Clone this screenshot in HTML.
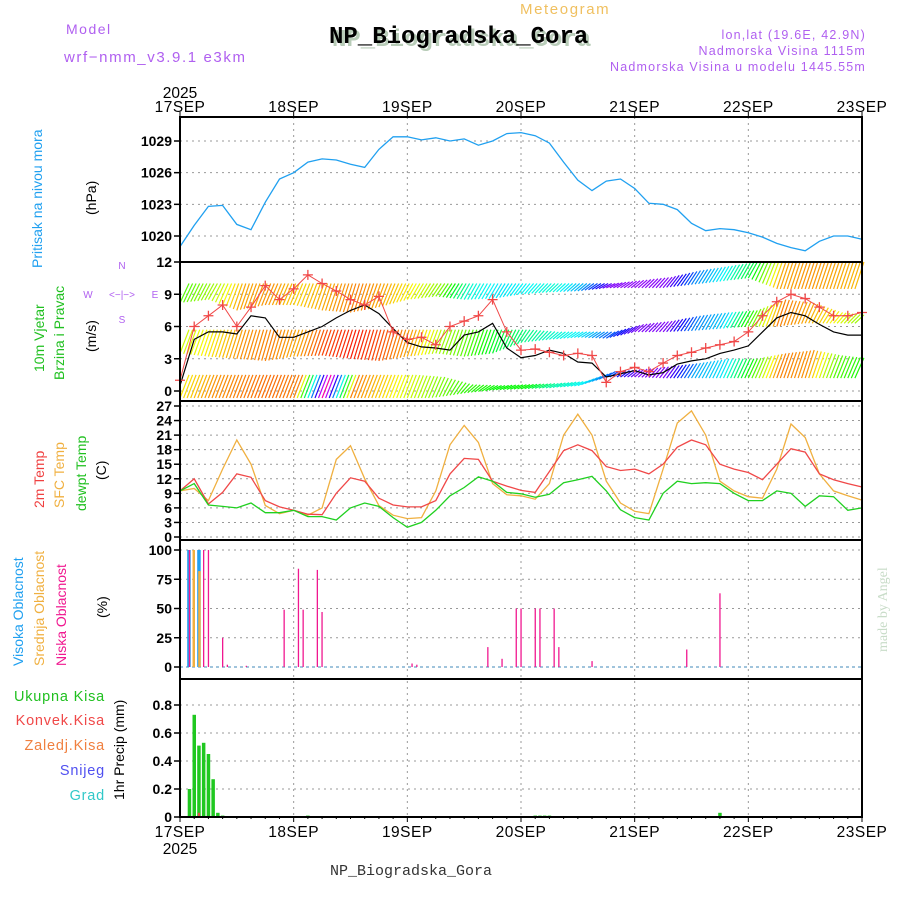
<!DOCTYPE html>
<html><head><meta charset="utf-8"><style>
html,body{margin:0;padding:0;background:#fff;}
svg{display:block;font-family:"Liberation Sans",sans-serif;}
</style></head><body>
<svg id="chart" width="900" height="900" viewBox="0 0 900 900" xmlns="http://www.w3.org/2000/svg">
<rect width="900" height="900" fill="#fff"/>
<g id="header">
<text x="66" y="34" fill="#b060f0" font-size="14" letter-spacing="1.5">Model</text>
<text x="64" y="62" fill="#b060f0" font-size="15" letter-spacing="1.6">wrf−nmm_v3.9.1 e3km</text>
<text x="520" y="14" fill="#f0c060" font-size="15" letter-spacing="1.6">Meteogram</text>
<text x="332" y="46" fill="#b8ccb8" font-size="24" font-weight="bold" font-family="Liberation Mono, monospace">NP_Biogradska_Gora</text>
<text x="329" y="43" fill="#000" font-size="24" font-weight="bold" font-family="Liberation Mono, monospace">NP_Biogradska_Gora</text>
<text x="866" y="39" fill="#b060f0" font-size="12.5" letter-spacing="1.2" text-anchor="end">lon,lat (19.6E, 42.9N)</text>
<text x="866" y="55" fill="#b060f0" font-size="12.5" letter-spacing="1.2" text-anchor="end">Nadmorska Visina 1115m</text>
<text x="866" y="71" fill="#b060f0" font-size="12.5" letter-spacing="1.2" text-anchor="end">Nadmorska Visina u modelu 1445.55m</text>
<text x="330" y="875" fill="#333" font-size="15" font-family="Liberation Mono, monospace">NP_Biogradska_Gora</text>
<text transform="translate(887,652) rotate(-90)" fill="#c8dcc8" font-size="14" font-family="Liberation Serif, serif">made by Angel</text>
</g>
<g id="labels" font-size="14">
<text transform="translate(42,268) rotate(-90)" fill="#20a0f0">Pritisak na nivou mora</text>
<text transform="translate(96,215) rotate(-90)" fill="#000">(hPa)</text>
<text transform="translate(44,372) rotate(-90)" fill="#20c020">10m Vjetar</text>
<text transform="translate(64,380) rotate(-90)" fill="#20c020">Brzina i Pravac</text>
<text transform="translate(96,352) rotate(-90)" fill="#000">(m/s)</text>
<text x="122" y="269" fill="#b060f0" font-size="10" text-anchor="middle">N</text>
<text x="122" y="323" fill="#b060f0" font-size="10" text-anchor="middle">S</text>
<text x="88" y="298" fill="#b060f0" font-size="10" text-anchor="middle">W</text>
<text x="155" y="298" fill="#b060f0" font-size="10" text-anchor="middle">E</text>
<text x="122" y="298" fill="#b060f0" font-size="10" text-anchor="middle">&lt;−|−&gt;</text>
<text transform="translate(44,508) rotate(-90)" fill="#f04040">2m Temp</text>
<text transform="translate(64,508) rotate(-90)" fill="#f0b040">SFC Temp</text>
<text transform="translate(86,511) rotate(-90)" fill="#20c020">dewpt Temp</text>
<text transform="translate(106,480) rotate(-90)" fill="#000">(C)</text>
<text transform="translate(23,666) rotate(-90)" fill="#20a0f0">Visoka Oblacnost</text>
<text transform="translate(44,666) rotate(-90)" fill="#f0b040">Srednja Oblacnost</text>
<text transform="translate(66,666) rotate(-90)" fill="#f01890">Niska Oblacnost</text>
<text transform="translate(107,618) rotate(-90)" fill="#000">(%)</text>
<g font-size="14.5" text-anchor="end" letter-spacing="0.8">
<text x="105" y="701" fill="#20c020">Ukupna Kisa</text>
<text x="105" y="725" fill="#f04848">Konvek.Kisa</text>
<text x="105" y="750" fill="#f08040">Zaledj.Kisa</text>
<text x="105" y="775" fill="#5050f0">Snijeg</text>
<text x="105" y="800" fill="#30c8c8">Grad</text>
</g>
<text transform="translate(124,800) rotate(-90)" fill="#000">1hr Precip (mm)</text>
</g>
<g id="grid"></g>
<g id="plots"></g>
<g id="frame"></g>
</svg>
<script>
// ---- data (3-hourly, hour 0..144 from 17SEP 00UTC) ----
var dayLabels = ["17SEP","18SEP","19SEP","20SEP","21SEP","22SEP","23SEP"];
var pressureTicks = [1020,1023,1026,1029];
var windTicks = [0,3,6,9,12];
var tempTicks = [0,3,6,9,12,15,18,21,24,27];
var cloudTicks = [0,25,50,75,100];
var precipTicks = [0,0.2,0.4,0.6,0.8];
var pressure = [1019.0,1021.0,1022.8,1022.9,1021.1,1020.6,1023.2,1025.4,1026.0,1027.0,1027.3,1027.2,1026.8,1026.5,1028.2,1029.4,1029.4,1029.1,1029.3,1029.0,1029.2,1028.6,1029.0,1029.7,1029.8,1029.5,1028.8,1027.0,1025.3,1024.3,1025.2,1025.4,1024.5,1023.1,1023.0,1022.5,1021.2,1020.5,1020.7,1020.6,1020.3,1019.9,1019.3,1018.9,1018.6,1019.5,1020.0,1020.0,1019.7];
var windSpeed = [0.5,4.8,5.5,5.5,5.3,7.0,6.8,5.0,5.0,5.5,6.0,6.8,7.5,8.0,7.2,5.8,4.5,4.1,4.0,3.8,5.2,5.5,6.3,4.0,3.1,3.3,3.8,3.5,2.7,2.6,1.3,1.6,1.9,1.5,1.7,2.5,2.8,3.0,3.5,3.8,4.2,5.5,6.8,7.3,7.0,6.2,5.5,5.2,5.2];
var windGust = [1.0,6.0,7.0,8.0,6.0,7.8,9.8,8.5,9.5,10.8,10.0,9.3,8.5,8.0,8.8,5.5,4.8,5.0,4.3,6.0,6.5,7.0,8.5,5.5,3.8,3.9,3.6,3.3,3.5,3.3,0.8,1.8,2.2,1.8,2.6,3.3,3.6,4.0,4.3,4.6,5.5,7.0,8.3,9.0,8.6,7.8,7.0,7.0,7.3];
var temp2m = [9.5,12,6.8,9.2,13,12.3,7.5,6.2,5.5,4.7,4.6,9,12.2,11.5,8,6.6,6.2,6.2,7.5,13,16.2,16,11.5,10.5,9.6,9.2,13.5,17.8,19,17.8,14.5,13.7,14,13,15,18.5,20,19,15,14,13.3,11.8,15,18.2,17.5,13,11.8,11,10.3];
var tempSfc = [9.5,10,7.5,14,20,15,6.5,4.8,5.5,4.5,6,16,18.8,12,6.5,4.5,3.8,4,9.5,19,23,19.5,11,8.7,8.5,7.8,11,21,25.3,21,11.5,7,5.3,4.8,14,23.5,26,21,11.5,9.5,8.3,8,14,23.3,20.5,13,9.5,8.5,7.6];
var tempDew = [9.5,11,6.6,6.3,6,7,5,5,5.5,4.2,4.2,3.5,6,7,6.3,4,2,3,5.5,8.5,10.2,12.4,11.5,9.2,8.9,8.2,8.8,11.2,11.8,12.5,9.5,5.6,4,3.5,9,11.5,11,11.2,11,9,7.5,7.5,9.5,9,6.3,8.5,8.3,5.5,6];
// wind barb bands (6-hourly): base / top speed levels and colour hue
var band1Base = [-0.8,-0.8,-0.8,-0.8,-0.8,-0.8,-0.8,-0.8,-0.8,-0.6,-0.2,0.1,0.2,0.3,0.5,1.3,1.3,1.2,1.2,1.2,1.2,1.2,1.2,1.2,1.2];
var band1Top  = [1.5,1.5,1.5,1.5,1.5,1.5,1.5,1.5,1.5,1.3,0.6,0.5,0.6,0.7,0.9,1.8,2.0,2.3,2.6,3.0,3.0,3.5,3.8,3.3,3.0];
var band1Hue  = [55,35,30,25,30,320,30,50,70,90,110,120,120,160,180,220,270,270,200,185,110,30,35,100,120];
var band2Base = [3.5,3.2,3.0,2.8,3.2,3.3,3.0,2.8,3.2,3.5,3.2,3.5,4.5,4.8,5.0,4.9,5.5,5.5,5.6,5.8,6.0,6.0,6.3,6.3,6.3];
var band2Top  = [5.7,5.7,5.7,5.7,5.7,5.7,5.7,5.7,5.7,5.7,5.7,5.7,5.7,5.5,5.5,5.5,6.2,6.5,7.0,7.3,7.5,8.5,8.2,7.3,7.0];
var band2Hue  = [70,55,35,30,40,15,5,20,40,80,100,130,150,170,185,220,270,270,210,190,100,30,40,60,90];
var band3Base = [8.2,8.5,7.5,8.0,8.0,7.5,7.3,7.8,8.5,8.8,8.5,8.6,9.0,9.2,9.3,9.6,9.6,9.6,9.9,10.2,10.5,9.5,9.5,9.5,9.5];
var band3Top  = [10,10,10,10,10,10,10,10,10,10,10,10,10,10,10,10,10.3,10.6,11.2,11.6,12,12,12,12,12];
var band3Hue  = [100,80,40,35,50,40,30,40,60,90,170,185,180,170,200,270,275,270,210,180,130,40,35,40,45];
// clouds (hour, %)
var lowCloudHours = [2,5,6,9,10,14,22,25,26,29,30,49,50,65,68,71,72,75,76,79,80,87,107,114];
var lowCloud = [100,100,100,25,2,1,49,84,49,83,47,3,2,17,7,50,50,50,50,50,17,5,15,63];
var highCloudHours = [1.9,4.0];
var highCloud = [100,100];
var midCloudHours = [2.9,4.1];
var midCloud = [100,82];
// precipitation (hour, mm)
var precipHours = [2,3,4,5,6,7,8,9,27,75,76,77,78,114];
var precip = [0.20,0.73,0.51,0.53,0.45,0.27,0.03,0.01,0.01,0.01,0.01,0.01,0.01,0.03];
var convHours = [4];
var convPrecip = [0.03];

// ---- layout ----
var X0=180, X1=862;
function xs(h){return X0+h*(X1-X0)/144;}
function lin(d0,d1,r0,r1){return function(v){return r0+(v-d0)*(r1-r0)/(d1-d0);};}
var yP=lin(1020,1029,236,141), yW=lin(0,12,391,262), yT=lin(0,27,537,406), yC=lin(0,100,667,550), yR=lin(0,0.8,817,705);
var NS="http://www.w3.org/2000/svg";
function mk(tag,attrs,parent){var e=document.createElementNS(NS,tag);for(var k in attrs)e.setAttribute(k,attrs[k]);parent.appendChild(e);return e;}
var grid=document.getElementById('grid'), plots=document.getElementById('plots'), frame=document.getElementById('frame');
var panels=[[117,262],[262,401],[401,540],[540,679],[679,817]];

for(var d=1;d<6;d++){
  var l=mk('line',{x1:xs(d*24),x2:xs(d*24),y1:117,y2:817,stroke:'#999','stroke-dasharray':'2,4','stroke-width':1},grid);
  
  
}
function hgrid(ticks,sc,name,fmt){
  ticks.forEach(function(t){
    var y=sc(t);
    var g=mk('line',{x1:X0,x2:X1,y1:y,y2:y,stroke:'#999','stroke-dasharray':'2,4','stroke-width':1},grid);
    
    
    var tk=mk('line',{x1:X0-6,x2:X0,y1:y,y2:y,stroke:'#000','stroke-width':1.5},frame);
    
    
    var tx=mk('text',{x:X0-8,y:y+5,'text-anchor':'end','font-size':14,'font-weight':'bold',fill:'#000'},frame);
    
    
    tx.textContent=fmt?fmt(t):t;
  });
}
hgrid(pressureTicks,yP,'pressure');
hgrid(windTicks,yW,'wind');
hgrid(tempTicks,yT,'temp');
hgrid(cloudTicks,yC,'cloud');
hgrid(precipTicks,yR,'precip',function(t){return t===0?'0':t.toFixed(1);});

function pathOf(arr,sc){return arr.map(function(v,i){return (i?'L':'M')+xs(i*3).toFixed(1)+','+sc(v).toFixed(1);}).join('');}
function interp(arr,h,step){var i=Math.min(Math.floor(h/step),arr.length-2);var f=(h-i*step)/step;return arr[i]+(arr[i+1]-arr[i])*f;}

var pp=mk('path',{d:pathOf(pressure,yP),fill:'none',stroke:'#20a0f0','stroke-width':1.3},plots);



var wg=mk('g',{},plots);


[[band1Base,band1Top,band1Hue],[band2Base,band2Top,band2Hue],[band3Base,band3Top,band3Hue]].forEach(function(b,bi){
  for(var h=0;h<=143;h+=0.75){
    var base=interp(b[0],h,6), top=interp(b[1],h,6), hue=interp(b[2],h,6);
    if(top-base<0.3) top=base+0.6;
    var x=xs(h), ya=Math.min(yW(base),398), yb=Math.max(yW(top),262);
    var ln=mk('line',{x1:x.toFixed(1),y1:ya.toFixed(1),x2:(x+9).toFixed(1),y2:yb.toFixed(1),stroke:'hsl('+hue.toFixed(0)+',95%,50%)','stroke-width':1.2},wg);
    
    
  }
});
var ws=mk('path',{d:pathOf(windSpeed,yW),fill:'none',stroke:'#000','stroke-width':1.2},plots);


var wgl=mk('path',{d:pathOf(windGust,yW),fill:'none',stroke:'#f04848','stroke-width':1},plots);


windGust.forEach(function(v,i){
  var x=xs(i*3), y=yW(v);
  var m=mk('path',{d:'M'+(x-5)+','+y+'h10M'+x+','+(y-5)+'v10',stroke:'#f04848','stroke-width':1.3},plots);
  
  
});

[[tempSfc,'#f0b040','sfc-temp-line'],[temp2m,'#f04848','temp-2m-line'],[tempDew,'#20d020','dewpoint-line']].forEach(function(s){
  var p=mk('path',{d:pathOf(s[0],yT),fill:'none',stroke:s[1],'stroke-width':1.3},plots);
  
  
});

function bars(hours,vals,sc,color,w,name){
  hours.forEach(function(h,i){
    var x=xs(h), y=sc(vals[i]), y0=sc(0);
    var r=mk('rect',{x:(x-w/2).toFixed(1),y:y.toFixed(1),width:w,height:Math.max(0.5,y0-y).toFixed(1),fill:color},plots);
    
    
  });
}
var cb=mk('line',{x1:X0,x2:X1,y1:yC(0),y2:yC(0),stroke:'#80b0d0','stroke-width':1.5,'stroke-dasharray':'3,3'},plots);


bars(highCloudHours,highCloud,yC,'#20a0f0',3.5,'high-cloud-bar');
bars(midCloudHours,midCloud,yC,'#f0b040',2.5,'mid-cloud-bar');
bars(lowCloudHours,lowCloud,yC,'#f01890',1.3,'low-cloud-bar');
bars(precipHours,precip,yR,'#20c820',3.5,'precip-bar');
bars(convHours,convPrecip,yR,'#f04848',2,'convective-precip-bar');

panels.forEach(function(p,i){
  var r=mk('rect',{x:X0,y:p[0],width:X1-X0,height:p[1]-p[0],fill:'none',stroke:'#000','stroke-width':2},frame);
  
  
});
for(var h=0;h<=144;h+=3){
  var mt=mk('line',{x1:xs(h),x2:xs(h),y1:817,y2:h%24===0?822:819,stroke:'#000','stroke-width':1},frame);
  
  
}
dayLabels.forEach(function(lbl,i){
  var x=xs(i*24);
  var t=mk('text',{x:x,y:112,'text-anchor':'middle','font-size':15.5,fill:'#000','letter-spacing':0.5},frame);
  
  
  t.textContent=lbl;
  var b=mk('text',{x:x,y:837,'text-anchor':'middle','font-size':15.5,fill:'#000','letter-spacing':0.5},frame);
  
  
  b.textContent=lbl;
  var tk=mk('line',{x1:x,x2:x,y1:112,y2:117,stroke:'#000'},frame);
  
  
});
var yr1=mk('text',{x:X0,y:98,'text-anchor':'middle','font-size':15.5,fill:'#000'},frame);


yr1.textContent='2025';
var yr2=mk('text',{x:X0,y:854,'text-anchor':'middle','font-size':15.5,fill:'#000'},frame);


yr2.textContent='2025';
</script>
</body></html>
